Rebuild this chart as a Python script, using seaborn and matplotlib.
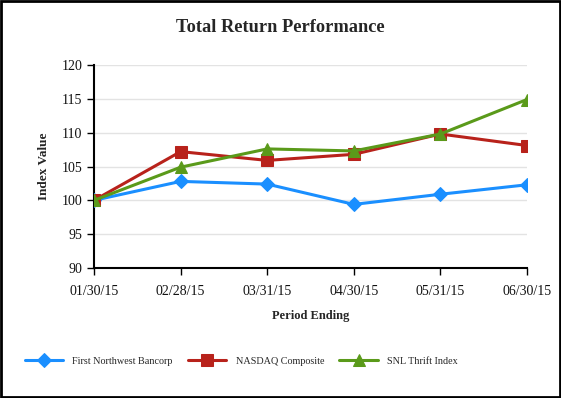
import matplotlib.pyplot as plt
import pandas as pd
import seaborn as sns
from matplotlib.patches import Rectangle

sns.set_theme(style="white")
plt.rcParams["font.family"] = ["Liberation Serif", "DejaVu Serif"]

periods = ["01/30/15", "02/28/15", "03/31/15", "04/30/15", "05/31/15", "06/30/15"]
first_northwest = [100.0, 102.8, 102.4, 99.4, 100.9, 102.3]
nasdaq = [100.0, 107.2, 105.9, 106.8, 109.8, 108.1]
snl_thrift = [100.0, 104.9, 107.6, 107.3, 109.8, 114.9]

series_names = ["First Northwest Bancorp", "NASDAQ Composite", "SNL Thrift Index"]
colors = ["#1a8fff", "#b8221b", "#5a9a1a"]
markers = ["D", "s", "^"]
marker_sizes = [7, 8, 8]

df = pd.DataFrame({
    "period": periods * 3,
    "value": first_northwest + nasdaq + snl_thrift,
    "series": [s for s in series_names for _ in periods],
})

fig = plt.figure(figsize=(5.61, 3.98), dpi=100)
ax = fig.add_axes([0.1676, 0.3266, 0.7718, 0.5101])

for name, color, marker, ms in zip(series_names, colors, markers, marker_sizes):
    sns.lineplot(
        data=df[df["series"] == name],
        x="period",
        y="value",
        color=color,
        marker=marker,
        markersize=ms,
        markeredgecolor=color,
        linewidth=2.2,
        label=name,
        ax=ax,
        legend=False,
        zorder=3,
    )

ax.set_ylim(90, 120)
ax.set_yticks(range(90, 121, 5))
ax.set_xlim(0, len(periods) - 1)
ax.yaxis.grid(True, color="#e3e3e3", linewidth=1)
ax.set_axisbelow(True)

for side in ["top", "right"]:
    ax.spines[side].set_visible(False)
for side in ["left", "bottom"]:
    ax.spines[side].set_color("black")
    ax.spines[side].set_linewidth(1.5)

ax.tick_params(axis="both", direction="out", length=5, width=1, color="black",
               labelsize=10, labelcolor="#111111", left=True, bottom=True)
ax.tick_params(axis="x", pad=7)

ax.set_xlabel("Period Ending", fontsize=9, fontweight="bold", labelpad=9)
ax.set_ylabel("Index Value", fontsize=9.5, fontweight="bold", labelpad=8)

fig.text(0.5, 0.93, "Total Return Performance", ha="center", va="center",
         fontsize=13.2, fontweight="bold")

handles, labels = ax.get_legend_handles_labels()
fig.legend(handles, labels, loc="center", bbox_to_anchor=(0.43, 0.093), ncol=3,
           frameon=False, fontsize=7.3, handlelength=3.8, columnspacing=1.5,
           handletextpad=0.9)

fig.patches.append(Rectangle((0.002, 0.002), 0.996, 0.996, transform=fig.transFigure,
                             fill=False, edgecolor="black", linewidth=2))

fig.savefig("out.png", dpi=100, facecolor="white")
